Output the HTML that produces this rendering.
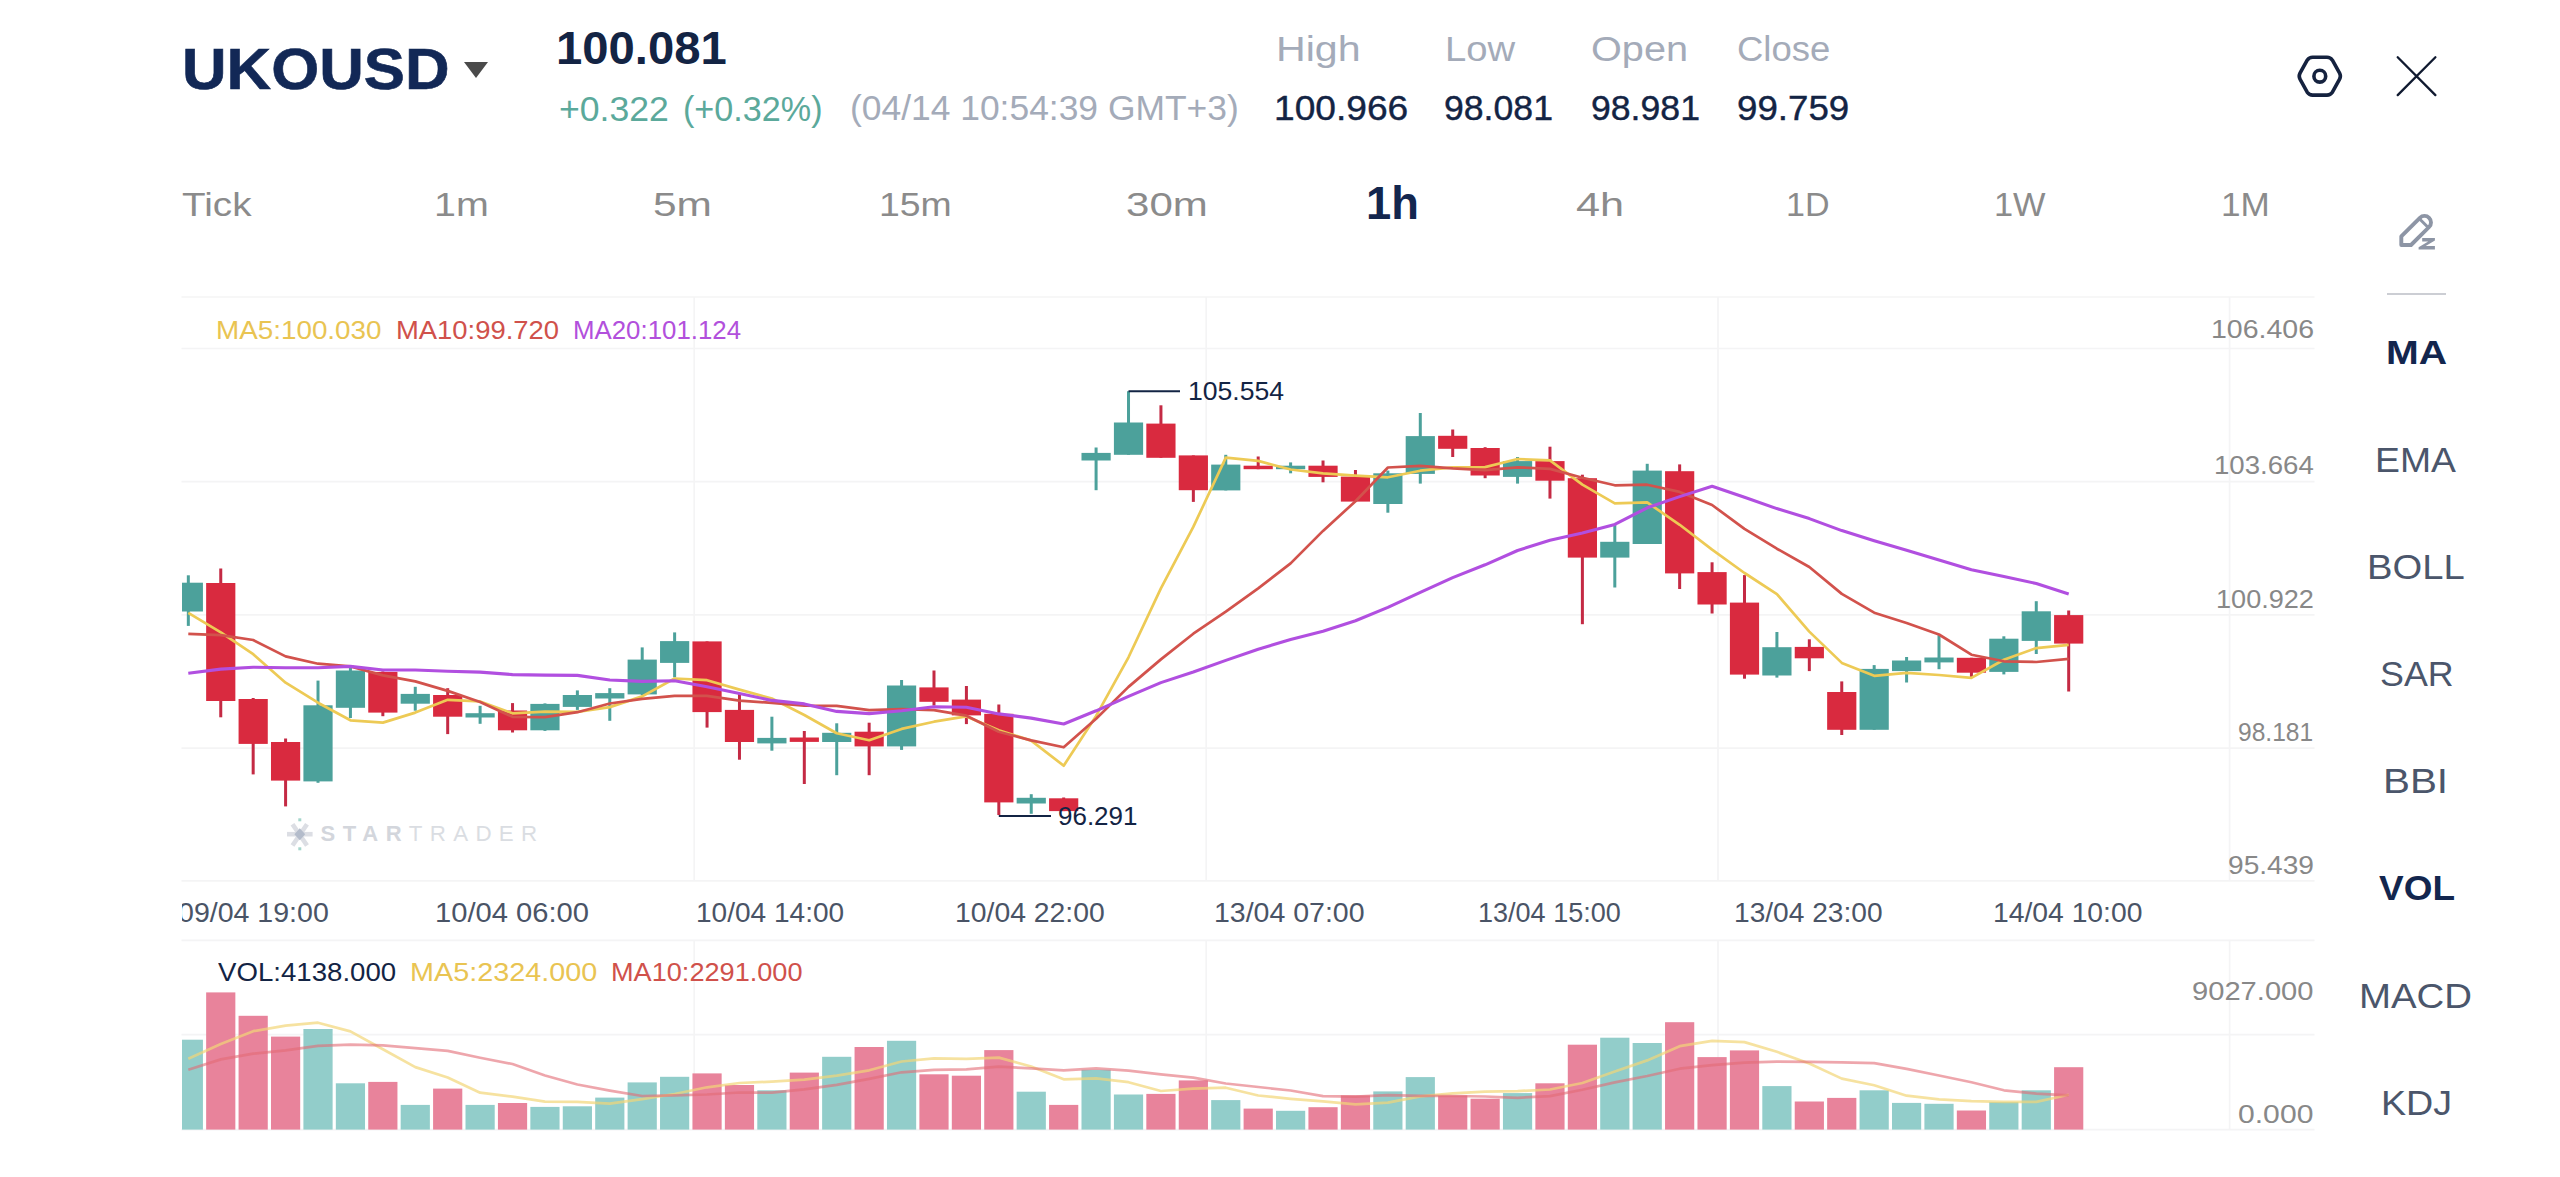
<!DOCTYPE html>
<html lang="en"><head><meta charset="utf-8"><title>UKOUSD Chart</title>
<style>
html,body{margin:0;padding:0;background:#fff;}
body{width:2560px;height:1177px;position:relative;overflow:hidden;font-family:"Liberation Sans",sans-serif;}
#chart{position:absolute;left:0;top:0;}
.t{position:absolute;white-space:pre;line-height:1;transform-origin:0 0;display:block;}
.ic{position:absolute;overflow:visible;}
.tri{position:absolute;left:463.7px;top:61.9px;width:0;height:0;border-left:12px solid transparent;border-right:12px solid transparent;border-top:16.6px solid #4a4a4a;}
.div{position:absolute;left:2387px;top:292.9px;width:58.5px;height:1.8px;background:#ccced4;}
#xaxis{position:absolute;left:182px;top:882px;width:2132px;height:56px;overflow:hidden;}
#xaxis .t{margin-left:-182px;margin-top:-882px;}
</style></head>
<body>
<svg id="chart" width="2560" height="1177" viewBox="0 0 2560 1177">
<g stroke="#f4f4f5" stroke-width="1.7" fill="none"><line x1="181.5" x2="2314.5" y1="297" y2="297"/><line x1="181.5" x2="2314.5" y1="348.5" y2="348.5"/><line x1="181.5" x2="2314.5" y1="481.7" y2="481.7"/><line x1="181.5" x2="2314.5" y1="614.9" y2="614.9"/><line x1="181.5" x2="2314.5" y1="748.1" y2="748.1"/><line x1="181.5" x2="2314.5" y1="880.8" y2="880.8"/><line x1="181.5" x2="2314.5" y1="940.4" y2="940.4"/><line x1="181.5" x2="2314.5" y1="1034.6" y2="1034.6"/><line x1="181.5" x2="2314.5" y1="1129.6" y2="1129.6"/><line x1="694.2" x2="694.2" y1="297" y2="880.8"/><line x1="694.2" x2="694.2" y1="940.4" y2="1129.6"/><line x1="1206.2" x2="1206.2" y1="297" y2="880.8"/><line x1="1206.2" x2="1206.2" y1="940.4" y2="1129.6"/><line x1="1718.0" x2="1718.0" y1="297" y2="880.8"/><line x1="1718.0" x2="1718.0" y1="940.4" y2="1129.6"/><line x1="2229.6" x2="2229.6" y1="297" y2="880.8"/><line x1="2229.6" x2="2229.6" y1="940.4" y2="1129.6"/></g>
<defs><clipPath id="cp"><rect x="182" y="290" width="2132" height="850"/></clipPath></defs>
<g clip-path="url(#cp)">
<g><rect x="173.73" y="1039.7" width="29.2" height="89.9" fill="#92cdca"/><rect x="206.15" y="992.4" width="29.2" height="137.2" fill="#e8839b"/><rect x="238.57" y="1015.8" width="29.2" height="113.8" fill="#e8839b"/><rect x="270.99" y="1036.6" width="29.2" height="93.0" fill="#e8839b"/><rect x="303.41" y="1029.0" width="29.2" height="100.6" fill="#92cdca"/><rect x="335.83" y="1083.3" width="29.2" height="46.3" fill="#92cdca"/><rect x="368.25" y="1081.9" width="29.2" height="47.7" fill="#e8839b"/><rect x="400.67" y="1104.9" width="29.2" height="24.7" fill="#92cdca"/><rect x="433.09" y="1088.6" width="29.2" height="41.0" fill="#e8839b"/><rect x="465.51" y="1104.9" width="29.2" height="24.7" fill="#92cdca"/><rect x="497.93" y="1103.0" width="29.2" height="26.6" fill="#e8839b"/><rect x="530.35" y="1106.9" width="29.2" height="22.7" fill="#92cdca"/><rect x="562.77" y="1106.3" width="29.2" height="23.3" fill="#92cdca"/><rect x="595.19" y="1097.6" width="29.2" height="32.0" fill="#92cdca"/><rect x="627.61" y="1082.4" width="29.2" height="47.2" fill="#92cdca"/><rect x="660.03" y="1076.8" width="29.2" height="52.8" fill="#92cdca"/><rect x="692.45" y="1073.4" width="29.2" height="56.2" fill="#e8839b"/><rect x="724.87" y="1085.0" width="29.2" height="44.6" fill="#e8839b"/><rect x="757.29" y="1090.3" width="29.2" height="39.3" fill="#92cdca"/><rect x="789.71" y="1072.6" width="29.2" height="57.0" fill="#e8839b"/><rect x="822.13" y="1056.8" width="29.2" height="72.8" fill="#92cdca"/><rect x="854.55" y="1047.0" width="29.2" height="82.6" fill="#e8839b"/><rect x="886.97" y="1040.8" width="29.2" height="88.8" fill="#92cdca"/><rect x="919.39" y="1074.3" width="29.2" height="55.3" fill="#e8839b"/><rect x="951.81" y="1075.7" width="29.2" height="53.9" fill="#e8839b"/><rect x="984.23" y="1050.1" width="29.2" height="79.5" fill="#e8839b"/><rect x="1016.65" y="1091.7" width="29.2" height="37.9" fill="#92cdca"/><rect x="1049.07" y="1104.9" width="29.2" height="24.7" fill="#e8839b"/><rect x="1081.49" y="1069.8" width="29.2" height="59.8" fill="#92cdca"/><rect x="1113.91" y="1094.5" width="29.2" height="35.1" fill="#92cdca"/><rect x="1146.33" y="1093.9" width="29.2" height="35.7" fill="#e8839b"/><rect x="1178.75" y="1080.4" width="29.2" height="49.2" fill="#e8839b"/><rect x="1211.17" y="1100.1" width="29.2" height="29.5" fill="#92cdca"/><rect x="1243.59" y="1108.6" width="29.2" height="21.0" fill="#e8839b"/><rect x="1276.01" y="1110.8" width="29.2" height="18.8" fill="#92cdca"/><rect x="1308.43" y="1107.2" width="29.2" height="22.4" fill="#e8839b"/><rect x="1340.85" y="1095.4" width="29.2" height="34.2" fill="#e8839b"/><rect x="1373.27" y="1091.4" width="29.2" height="38.2" fill="#92cdca"/><rect x="1405.69" y="1077.1" width="29.2" height="52.5" fill="#92cdca"/><rect x="1438.11" y="1095.4" width="29.2" height="34.2" fill="#e8839b"/><rect x="1470.53" y="1098.7" width="29.2" height="30.9" fill="#e8839b"/><rect x="1502.95" y="1093.1" width="29.2" height="36.5" fill="#92cdca"/><rect x="1535.37" y="1083.3" width="29.2" height="46.3" fill="#e8839b"/><rect x="1567.79" y="1044.7" width="29.2" height="84.9" fill="#e8839b"/><rect x="1600.21" y="1037.7" width="29.2" height="91.9" fill="#92cdca"/><rect x="1632.63" y="1043.0" width="29.2" height="86.6" fill="#92cdca"/><rect x="1665.05" y="1022.2" width="29.2" height="107.4" fill="#e8839b"/><rect x="1697.47" y="1057.1" width="29.2" height="72.5" fill="#e8839b"/><rect x="1729.89" y="1050.4" width="29.2" height="79.2" fill="#e8839b"/><rect x="1762.31" y="1086.1" width="29.2" height="43.5" fill="#92cdca"/><rect x="1794.73" y="1101.5" width="29.2" height="28.1" fill="#e8839b"/><rect x="1827.15" y="1097.9" width="29.2" height="31.7" fill="#e8839b"/><rect x="1859.57" y="1090.3" width="29.2" height="39.3" fill="#92cdca"/><rect x="1891.99" y="1102.9" width="29.2" height="26.7" fill="#92cdca"/><rect x="1924.41" y="1103.8" width="29.2" height="25.8" fill="#92cdca"/><rect x="1956.83" y="1110.5" width="29.2" height="19.1" fill="#e8839b"/><rect x="1989.25" y="1102.1" width="29.2" height="27.5" fill="#92cdca"/><rect x="2021.67" y="1090.3" width="29.2" height="39.3" fill="#92cdca"/><rect x="2054.09" y="1067.2" width="29.2" height="62.4" fill="#e8839b"/></g>
<polyline points="188.3,1058.8 220.8,1043.9 253.2,1031.2 285.6,1025.6 318.0,1022.7 350.4,1031.4 382.9,1049.3 415.3,1067.1 447.7,1077.5 480.1,1092.7 512.5,1096.7 545.0,1101.7 577.4,1101.9 609.8,1103.7 642.2,1099.2 674.6,1094.0 707.0,1087.3 739.5,1083.0 771.9,1081.6 804.3,1079.6 836.7,1075.6 869.2,1070.3 901.6,1061.5 934.0,1058.3 966.4,1058.9 998.8,1057.6 1031.2,1066.5 1063.7,1079.3 1096.1,1078.4 1128.5,1082.2 1160.9,1091.0 1193.3,1088.7 1225.8,1087.7 1258.2,1095.5 1290.6,1098.8 1323.0,1101.4 1355.5,1104.4 1387.9,1102.7 1420.3,1096.4 1452.7,1093.3 1485.1,1091.6 1517.6,1091.1 1550.0,1089.5 1582.4,1083.0 1614.8,1071.5 1647.2,1060.4 1679.7,1046.2 1712.1,1040.9 1744.5,1042.1 1776.9,1051.8 1809.3,1063.5 1841.8,1078.6 1874.2,1085.2 1906.6,1095.7 1939.0,1099.3 1971.4,1101.1 2003.9,1101.9 2036.3,1101.9 2068.7,1094.8" fill="none" stroke="#f2d577" stroke-width="2.7" stroke-linejoin="round" stroke-linecap="butt" opacity="0.7"/>
<polyline points="188.3,1069.8 220.8,1059.4 253.2,1053.7 285.6,1050.4 318.0,1045.9 350.4,1044.7 382.9,1045.3 415.3,1048.1 447.7,1050.9 480.1,1057.7 512.5,1064.0 545.0,1075.5 577.4,1084.5 609.8,1090.6 642.2,1096.0 674.6,1095.3 707.0,1094.5 739.5,1092.5 771.9,1092.7 804.3,1089.4 836.7,1084.8 869.2,1078.8 901.6,1072.3 934.0,1069.9 966.4,1069.3 998.8,1066.6 1031.2,1068.4 1063.7,1070.4 1096.1,1068.4 1128.5,1070.6 1160.9,1074.3 1193.3,1077.6 1225.8,1083.5 1258.2,1087.0 1290.6,1090.5 1323.0,1096.2 1355.5,1096.6 1387.9,1095.2 1420.3,1095.9 1452.7,1096.0 1485.1,1096.5 1517.6,1097.8 1550.0,1096.1 1582.4,1089.7 1614.8,1082.4 1647.2,1076.0 1679.7,1068.7 1712.1,1065.2 1744.5,1062.6 1776.9,1061.6 1809.3,1061.9 1841.8,1062.4 1874.2,1063.1 1906.6,1068.9 1939.0,1075.5 1971.4,1082.3 2003.9,1090.3 2036.3,1093.6 2068.7,1095.3" fill="none" stroke="#e26a74" stroke-width="2.7" stroke-linejoin="round" stroke-linecap="butt" opacity="0.6"/>
<g><rect x="186.83" y="575.3" width="3" height="50.6" fill="#4ca19b"/><rect x="173.73" y="582.7" width="29.2" height="28.8" fill="#4ca19b"/><rect x="219.25" y="568.5" width="3" height="148.8" fill="#c42a44"/><rect x="206.15" y="583.0" width="29.2" height="118.0" fill="#d92a3f"/><rect x="251.67" y="698.0" width="3" height="76.4" fill="#c42a44"/><rect x="238.57" y="699.0" width="29.2" height="44.9" fill="#d92a3f"/><rect x="284.09" y="738.5" width="3" height="67.9" fill="#c42a44"/><rect x="270.99" y="742.0" width="29.2" height="38.6" fill="#d92a3f"/><rect x="316.51" y="680.6" width="3" height="102.2" fill="#4ca19b"/><rect x="303.41" y="705.3" width="29.2" height="76.1" fill="#4ca19b"/><rect x="348.93" y="668.0" width="3" height="50.0" fill="#4ca19b"/><rect x="335.83" y="670.5" width="29.2" height="37.3" fill="#4ca19b"/><rect x="381.35" y="671.4" width="3" height="44.8" fill="#c42a44"/><rect x="368.25" y="671.9" width="29.2" height="40.7" fill="#d92a3f"/><rect x="413.77" y="686.8" width="3" height="23.9" fill="#4ca19b"/><rect x="400.67" y="693.9" width="29.2" height="9.8" fill="#4ca19b"/><rect x="446.19" y="688.2" width="3" height="45.9" fill="#c42a44"/><rect x="433.09" y="695.0" width="29.2" height="21.7" fill="#d92a3f"/><rect x="478.61" y="705.8" width="3" height="18.0" fill="#4ca19b"/><rect x="465.51" y="713.2" width="29.2" height="4.3" fill="#4ca19b"/><rect x="511.03" y="703.1" width="3" height="29.4" fill="#c42a44"/><rect x="497.93" y="710.5" width="29.2" height="19.8" fill="#d92a3f"/><rect x="543.45" y="703.4" width="3" height="27.5" fill="#4ca19b"/><rect x="530.35" y="703.9" width="29.2" height="26.4" fill="#4ca19b"/><rect x="575.87" y="690.4" width="3" height="19.5" fill="#4ca19b"/><rect x="562.77" y="695.0" width="29.2" height="11.9" fill="#4ca19b"/><rect x="608.29" y="688.2" width="3" height="32.6" fill="#4ca19b"/><rect x="595.19" y="693.1" width="29.2" height="5.4" fill="#4ca19b"/><rect x="640.71" y="647.4" width="3" height="47.6" fill="#4ca19b"/><rect x="627.61" y="659.6" width="29.2" height="34.8" fill="#4ca19b"/><rect x="673.13" y="632.4" width="3" height="44.9" fill="#4ca19b"/><rect x="660.03" y="641.1" width="29.2" height="21.8" fill="#4ca19b"/><rect x="705.55" y="641.4" width="3" height="86.2" fill="#c42a44"/><rect x="692.45" y="641.4" width="29.2" height="70.7" fill="#d92a3f"/><rect x="737.97" y="693.6" width="3" height="66.1" fill="#c42a44"/><rect x="724.87" y="709.9" width="29.2" height="32.1" fill="#d92a3f"/><rect x="770.39" y="716.7" width="3" height="34.0" fill="#4ca19b"/><rect x="757.29" y="737.9" width="29.2" height="5.5" fill="#4ca19b"/><rect x="802.81" y="731.0" width="3" height="53.0" fill="#c42a44"/><rect x="789.71" y="737.5" width="29.2" height="4.4" fill="#d92a3f"/><rect x="835.23" y="723.3" width="3" height="51.9" fill="#4ca19b"/><rect x="822.13" y="732.8" width="29.2" height="9.2" fill="#4ca19b"/><rect x="867.65" y="722.7" width="3" height="52.5" fill="#c42a44"/><rect x="854.55" y="731.7" width="29.2" height="14.7" fill="#d92a3f"/><rect x="900.07" y="680.0" width="3" height="69.9" fill="#4ca19b"/><rect x="886.97" y="685.5" width="29.2" height="60.9" fill="#4ca19b"/><rect x="932.49" y="670.5" width="3" height="35.1" fill="#c42a44"/><rect x="919.39" y="687.4" width="29.2" height="14.4" fill="#d92a3f"/><rect x="964.91" y="686.0" width="3" height="38.1" fill="#c42a44"/><rect x="951.81" y="699.6" width="29.2" height="15.8" fill="#d92a3f"/><rect x="997.33" y="704.5" width="3" height="110.5" fill="#c42a44"/><rect x="984.23" y="713.8" width="29.2" height="88.6" fill="#d92a3f"/><rect x="1029.75" y="794.2" width="3" height="19.6" fill="#4ca19b"/><rect x="1016.65" y="797.8" width="29.2" height="5.7" fill="#4ca19b"/><rect x="1062.17" y="797.5" width="3" height="13.6" fill="#c42a44"/><rect x="1049.07" y="798.3" width="29.2" height="12.8" fill="#d92a3f"/><rect x="1094.59" y="447.5" width="3" height="42.7" fill="#4ca19b"/><rect x="1081.49" y="452.9" width="29.2" height="7.6" fill="#4ca19b"/><rect x="1127.01" y="391.2" width="3" height="63.6" fill="#4ca19b"/><rect x="1113.91" y="422.5" width="29.2" height="32.3" fill="#4ca19b"/><rect x="1159.43" y="405.3" width="3" height="52.5" fill="#c42a44"/><rect x="1146.33" y="423.6" width="29.2" height="34.2" fill="#d92a3f"/><rect x="1191.85" y="455.4" width="3" height="46.5" fill="#c42a44"/><rect x="1178.75" y="455.4" width="29.2" height="34.8" fill="#d92a3f"/><rect x="1224.27" y="454.8" width="3" height="35.6" fill="#4ca19b"/><rect x="1211.17" y="464.6" width="29.2" height="25.8" fill="#4ca19b"/><rect x="1256.69" y="456.5" width="3" height="12.7" fill="#c42a44"/><rect x="1243.59" y="465.7" width="29.2" height="3.5" fill="#d92a3f"/><rect x="1289.11" y="462.4" width="3" height="10.9" fill="#4ca19b"/><rect x="1276.01" y="465.7" width="29.2" height="3.5" fill="#4ca19b"/><rect x="1321.53" y="460.5" width="3" height="21.8" fill="#c42a44"/><rect x="1308.43" y="465.7" width="29.2" height="11.2" fill="#d92a3f"/><rect x="1353.95" y="470.0" width="3" height="31.6" fill="#c42a44"/><rect x="1340.85" y="476.6" width="29.2" height="25.0" fill="#d92a3f"/><rect x="1386.37" y="470.6" width="3" height="42.1" fill="#4ca19b"/><rect x="1373.27" y="473.3" width="29.2" height="30.7" fill="#4ca19b"/><rect x="1418.79" y="413.0" width="3" height="70.6" fill="#4ca19b"/><rect x="1405.69" y="436.1" width="29.2" height="37.8" fill="#4ca19b"/><rect x="1451.21" y="429.5" width="3" height="27.5" fill="#c42a44"/><rect x="1438.11" y="435.8" width="29.2" height="13.0" fill="#d92a3f"/><rect x="1483.63" y="447.2" width="3" height="31.0" fill="#c42a44"/><rect x="1470.53" y="448.0" width="29.2" height="27.5" fill="#d92a3f"/><rect x="1516.05" y="457.0" width="3" height="26.6" fill="#4ca19b"/><rect x="1502.95" y="461.1" width="29.2" height="15.8" fill="#4ca19b"/><rect x="1548.47" y="446.7" width="3" height="51.9" fill="#c42a44"/><rect x="1535.37" y="461.1" width="29.2" height="19.6" fill="#d92a3f"/><rect x="1580.89" y="474.7" width="3" height="149.5" fill="#c42a44"/><rect x="1567.79" y="478.2" width="29.2" height="79.4" fill="#d92a3f"/><rect x="1613.31" y="525.0" width="3" height="62.5" fill="#4ca19b"/><rect x="1600.21" y="541.8" width="29.2" height="15.8" fill="#4ca19b"/><rect x="1645.73" y="463.8" width="3" height="80.2" fill="#4ca19b"/><rect x="1632.63" y="470.6" width="29.2" height="73.4" fill="#4ca19b"/><rect x="1678.15" y="464.4" width="3" height="124.6" fill="#c42a44"/><rect x="1665.05" y="471.2" width="29.2" height="102.2" fill="#d92a3f"/><rect x="1710.57" y="562.3" width="3" height="51.2" fill="#c42a44"/><rect x="1697.47" y="572.1" width="29.2" height="32.4" fill="#d92a3f"/><rect x="1742.99" y="575.1" width="3" height="103.6" fill="#c42a44"/><rect x="1729.89" y="602.6" width="29.2" height="72.0" fill="#d92a3f"/><rect x="1775.41" y="632.0" width="3" height="45.6" fill="#4ca19b"/><rect x="1762.31" y="647.2" width="29.2" height="28.3" fill="#4ca19b"/><rect x="1807.83" y="639.3" width="3" height="31.8" fill="#c42a44"/><rect x="1794.73" y="646.9" width="29.2" height="11.4" fill="#d92a3f"/><rect x="1840.25" y="681.4" width="3" height="53.6" fill="#c42a44"/><rect x="1827.15" y="692.0" width="29.2" height="37.8" fill="#d92a3f"/><rect x="1872.67" y="665.1" width="3" height="64.7" fill="#4ca19b"/><rect x="1859.57" y="668.9" width="29.2" height="60.9" fill="#4ca19b"/><rect x="1905.09" y="657.0" width="3" height="25.5" fill="#4ca19b"/><rect x="1891.99" y="660.5" width="29.2" height="10.6" fill="#4ca19b"/><rect x="1937.51" y="635.2" width="3" height="34.0" fill="#4ca19b"/><rect x="1924.41" y="657.5" width="29.2" height="4.9" fill="#4ca19b"/><rect x="1969.93" y="657.8" width="3" height="19.3" fill="#c42a44"/><rect x="1956.83" y="657.8" width="29.2" height="14.9" fill="#d92a3f"/><rect x="2002.35" y="636.3" width="3" height="38.1" fill="#4ca19b"/><rect x="1989.25" y="638.7" width="29.2" height="33.2" fill="#4ca19b"/><rect x="2034.77" y="601.2" width="3" height="52.8" fill="#4ca19b"/><rect x="2021.67" y="611.3" width="29.2" height="29.6" fill="#4ca19b"/><rect x="2067.19" y="610.5" width="3" height="81.0" fill="#c42a44"/><rect x="2054.09" y="615.1" width="29.2" height="28.5" fill="#d92a3f"/></g>
<polyline points="188.3,612.9 220.8,632.4 253.2,654.2 285.6,682.7 318.0,702.7 350.4,720.3 382.9,722.6 415.3,712.6 447.7,699.8 480.1,701.4 512.5,713.3 545.0,711.6 577.4,711.8 609.8,707.1 642.2,696.4 674.6,678.5 707.0,680.2 739.5,689.6 771.9,698.5 804.3,715.0 836.7,733.3 869.2,740.2 901.6,728.9 934.0,721.7 966.4,716.4 998.8,730.3 1031.2,740.6 1063.7,765.7 1096.1,715.9 1128.5,657.3 1160.9,588.4 1193.3,526.9 1225.8,457.6 1258.2,460.9 1290.6,469.5 1323.0,473.3 1355.5,475.6 1387.9,477.3 1420.3,470.7 1452.7,467.3 1485.1,467.1 1517.6,459.0 1550.0,460.4 1582.4,484.7 1614.8,503.3 1647.2,502.4 1679.7,524.8 1712.1,549.6 1744.5,573.0 1776.9,594.1 1809.3,631.6 1841.8,662.9 1874.2,675.8 1906.6,672.9 1939.0,675.0 1971.4,677.9 2003.9,659.7 2036.3,648.1 2068.7,644.8" fill="none" stroke="#edca55" stroke-width="2.7" stroke-linejoin="round" stroke-linecap="butt" opacity="1"/>
<polyline points="188.3,633.8 220.8,635.2 253.2,640.0 285.6,656.4 318.0,663.7 350.4,666.4 382.9,675.4 415.3,681.4 447.7,690.9 480.1,702.0 512.5,716.8 545.0,717.1 577.4,712.2 609.8,703.5 642.2,698.9 674.6,695.9 707.0,695.9 739.5,700.7 771.9,702.8 804.3,705.7 836.7,705.9 869.2,710.2 901.6,709.2 934.0,710.1 966.4,715.7 998.8,731.8 1031.2,740.4 1063.7,747.3 1096.1,718.8 1128.5,686.9 1160.9,659.4 1193.3,633.7 1225.8,611.6 1258.2,588.4 1290.6,563.4 1323.0,530.9 1355.5,501.2 1387.9,467.5 1420.3,465.8 1452.7,468.4 1485.1,470.2 1517.6,467.3 1550.0,468.9 1582.4,477.7 1614.8,485.3 1647.2,484.7 1679.7,491.9 1712.1,505.0 1744.5,528.9 1776.9,548.7 1809.3,567.0 1841.8,593.9 1874.2,612.7 1906.6,623.0 1939.0,634.5 1971.4,654.7 2003.9,661.3 2036.3,662.0 2068.7,658.9" fill="none" stroke="#d2524c" stroke-width="2.7" stroke-linejoin="round" stroke-linecap="butt" opacity="1"/>
<polyline points="188.3,673.2 220.8,669.1 253.2,667.2 285.6,667.8 318.0,667.8 350.4,666.4 382.9,670.0 415.3,670.0 447.7,671.3 480.1,672.1 512.5,674.6 545.0,675.1 577.4,675.4 609.8,680.0 642.2,681.4 674.6,680.8 707.0,686.8 739.5,693.6 771.9,700.4 804.3,703.9 836.7,711.4 869.2,713.6 901.6,710.7 934.0,706.8 966.4,707.3 998.8,713.9 1031.2,718.1 1063.7,724.0 1096.1,710.8 1128.5,696.3 1160.9,682.6 1193.3,672.0 1225.8,660.4 1258.2,649.2 1290.6,639.6 1323.0,631.3 1355.5,620.8 1387.9,607.4 1420.3,592.3 1452.7,577.6 1485.1,564.8 1517.6,550.5 1550.0,540.3 1582.4,533.1 1614.8,524.4 1647.2,507.8 1679.7,496.6 1712.1,486.2 1744.5,497.3 1776.9,508.6 1809.3,518.6 1841.8,530.6 1874.2,540.8 1906.6,550.3 1939.0,559.9 1971.4,569.7 2003.9,576.6 2036.3,583.5 2068.7,593.9" fill="none" stroke="#b14fe0" stroke-width="3.1" stroke-linejoin="round" stroke-linecap="butt" opacity="1"/>
</g>
<g stroke="#132444" stroke-width="2" fill="none"><line x1="1128.5" x2="1180" y1="391.2" y2="391.2"/><line x1="998.8" x2="1051" y1="816" y2="816"/></g>
</svg>
<header><div id="hdr">
<span class="t" style="left:182.20px;top:41.34px;font-size:57.71px;color:#122856;transform:scaleX(1.0699);font-weight:700;-webkit-text-stroke:0.6px #122856;">UKOUSD</span>
<span class="t" style="left:556.06px;top:25.31px;font-size:46.57px;color:#132444;transform:scaleX(1.0150);font-weight:700;">100.081</span>
<span class="t" style="left:559.27px;top:91.53px;font-size:34.20px;color:#5ba99b;transform:scaleX(1.0417);">+0.322</span>
<span class="t" style="left:682.65px;top:91.53px;font-size:34.20px;color:#5ba99b;transform:scaleX(0.9988);">(+0.32%)</span>
<span class="t" style="left:849.87px;top:91.43px;font-size:34.20px;color:#a4abb9;transform:scaleX(1.0357);">(04/14 10:54:39 GMT+3)</span>
<span class="t" style="left:1276.11px;top:31.56px;font-size:34.64px;color:#a4abb9;transform:scaleX(1.1876);">High</span>
<span class="t" style="left:1444.54px;top:31.56px;font-size:34.64px;color:#a4abb9;transform:scaleX(1.1042);">Low</span>
<span class="t" style="left:1591.41px;top:31.56px;font-size:34.64px;color:#a4abb9;transform:scaleX(1.1449);">Open</span>
<span class="t" style="left:1737.07px;top:31.56px;font-size:34.64px;color:#a4abb9;transform:scaleX(1.0541);">Close</span>
<span class="t" style="left:1274.10px;top:91.48px;font-size:34.49px;color:#132444;transform:scaleX(1.0767);-webkit-text-stroke:0.4px #132444;">100.966</span>
<span class="t" style="left:1443.87px;top:91.48px;font-size:34.49px;color:#132444;transform:scaleX(1.0329);-webkit-text-stroke:0.4px #132444;">98.081</span>
<span class="t" style="left:1591.17px;top:91.48px;font-size:34.49px;color:#132444;transform:scaleX(1.0329);-webkit-text-stroke:0.4px #132444;">98.981</span>
<span class="t" style="left:1736.93px;top:91.48px;font-size:34.49px;color:#132444;transform:scaleX(1.0641);-webkit-text-stroke:0.4px #132444;">99.759</span>
</div><div class="tri"></div></header>
<nav><div id="tabs">
<span class="t" style="left:182.03px;top:187.35px;font-size:34.06px;color:#8b8b8b;transform:scaleX(1.1361);">Tick</span>
<span class="t" style="left:433.74px;top:187.35px;font-size:34.06px;color:#8b8b8b;transform:scaleX(1.1570);">1m</span>
<span class="t" style="left:652.70px;top:187.35px;font-size:34.06px;color:#8b8b8b;transform:scaleX(1.2465);">5m</span>
<span class="t" style="left:879.28px;top:187.35px;font-size:34.06px;color:#8b8b8b;transform:scaleX(1.0984);">15m</span>
<span class="t" style="left:1125.64px;top:187.35px;font-size:34.06px;color:#8b8b8b;transform:scaleX(1.2348);">30m</span>
<span class="t" style="left:1366.28px;top:180.00px;font-size:46.00px;color:#13264e;transform:scaleX(0.9850);font-weight:700;">1h</span>
<span class="t" style="left:1575.94px;top:187.35px;font-size:34.06px;color:#8b8b8b;transform:scaleX(1.2695);">4h</span>
<span class="t" style="left:1785.82px;top:187.35px;font-size:34.06px;color:#8b8b8b;transform:scaleX(0.9996);">1D</span>
<span class="t" style="left:1994.19px;top:187.35px;font-size:34.06px;color:#8b8b8b;transform:scaleX(1.0100);">1W</span>
<span class="t" style="left:2221.04px;top:187.35px;font-size:34.06px;color:#8b8b8b;transform:scaleX(1.0320);">1M</span>
</div></nav>
<aside><div id="side">
<span class="t" style="left:2386.14px;top:335.18px;font-size:34.14px;color:#13264e;transform:scaleX(1.1513);font-weight:700;">MA</span>
<span class="t" style="left:2375.01px;top:441.67px;font-size:35.22px;color:#4b566b;transform:scaleX(1.0597);">EMA</span>
<span class="t" style="left:2367.34px;top:548.67px;font-size:35.22px;color:#4b566b;transform:scaleX(1.0844);">BOLL</span>
<span class="t" style="left:2379.57px;top:656.34px;font-size:35.36px;color:#4b566b;transform:scaleX(1.0128);">SAR</span>
<span class="t" style="left:2383.47px;top:763.34px;font-size:35.36px;color:#4b566b;transform:scaleX(1.1417);">BBI</span>
<span class="t" style="left:2378.80px;top:871.29px;font-size:34.71px;color:#13264e;transform:scaleX(1.0646);font-weight:700;">VOL</span>
<span class="t" style="left:2359.33px;top:977.77px;font-size:35.22px;color:#4b566b;transform:scaleX(1.0897);">MACD</span>
<span class="t" style="left:2380.99px;top:1086.32px;font-size:35.51px;color:#4b566b;transform:scaleX(1.0607);">KDJ</span>
</div><div class="div"></div></aside>
<div id="xaxis">
<span class="t xl" style="left:177.64px;top:899.51px;font-size:26.81px;color:#4a5466;transform:scaleX(1.0653);">09/04 19:00</span>
<span class="t xl" style="left:434.66px;top:899.51px;font-size:26.81px;color:#4a5466;transform:scaleX(1.0880);">10/04 06:00</span>
<span class="t xl" style="left:696.24px;top:899.51px;font-size:26.81px;color:#4a5466;transform:scaleX(1.0462);">10/04 14:00</span>
<span class="t xl" style="left:954.91px;top:899.51px;font-size:26.81px;color:#4a5466;transform:scaleX(1.0577);">10/04 22:00</span>
<span class="t xl" style="left:1214.20px;top:899.51px;font-size:26.81px;color:#4a5466;transform:scaleX(1.0635);">13/04 07:00</span>
<span class="t xl" style="left:1477.61px;top:899.51px;font-size:26.81px;color:#4a5466;transform:scaleX(1.0087);">13/04 15:00</span>
<span class="t xl" style="left:1734.43px;top:899.51px;font-size:26.81px;color:#4a5466;transform:scaleX(1.0491);">13/04 23:00</span>
<span class="t xl" style="left:1993.02px;top:899.51px;font-size:26.81px;color:#4a5466;transform:scaleX(1.0555);">14/04 10:00</span>
</div>
<div id="labels">
<span class="t" style="left:2210.80px;top:317.14px;font-size:25.36px;color:#888888;transform:scaleX(1.1238);">106.406</span>
<span class="t" style="left:2214.27px;top:453.47px;font-size:25.22px;color:#888888;transform:scaleX(1.0943);">103.664</span>
<span class="t" style="left:2215.80px;top:587.04px;font-size:25.36px;color:#888888;transform:scaleX(1.0684);">100.922</span>
<span class="t" style="left:2237.62px;top:720.04px;font-size:25.36px;color:#888888;transform:scaleX(0.9683);">98.181</span>
<span class="t" style="left:2227.77px;top:853.24px;font-size:25.36px;color:#888888;transform:scaleX(1.1089);">95.439</span>
<span class="t" style="left:2192.03px;top:978.94px;font-size:25.36px;color:#888888;transform:scaleX(1.1487);">9027.000</span>
<span class="t" style="left:2238.40px;top:1102.24px;font-size:25.36px;color:#888888;transform:scaleX(1.1879);">0.000</span>
<span class="t" style="left:216.17px;top:317.74px;font-size:25.36px;color:#e9c452;transform:scaleX(1.0972);">MA5:100.030</span>
<span class="t" style="left:396.21px;top:317.74px;font-size:25.36px;color:#d0514b;transform:scaleX(1.0809);">MA10:99.720</span>
<span class="t" style="left:573.03px;top:317.74px;font-size:25.36px;color:#b250dc;transform:scaleX(1.0186);">MA20:101.124</span>
<span class="t" style="left:1188.14px;top:378.90px;font-size:25.65px;color:#132444;transform:scaleX(1.0359);">105.554</span>
<span class="t" style="left:1058.46px;top:804.14px;font-size:25.36px;color:#132444;transform:scaleX(1.0240);">96.291</span>
<span class="t" style="left:217.80px;top:959.82px;font-size:25.51px;color:#132444;transform:scaleX(1.0832);">VOL:4138.000</span>
<span class="t" style="left:410.10px;top:959.82px;font-size:25.51px;color:#e9c452;transform:scaleX(1.1285);">MA5:2324.000</span>
<span class="t" style="left:611.33px;top:959.82px;font-size:25.51px;color:#d0514b;transform:scaleX(1.0635);">MA10:2291.000</span>
<span class="t wm" style="left:320.56px;top:823.10px;font-size:22.00px;color:#d3d6dc;transform:scaleX(1.0000);letter-spacing:7.62px;font-weight:700;">STAR</span>
<span class="t wm" style="left:408.85px;top:822.83px;font-size:22.32px;color:#dadde2;transform:scaleX(1.0000);letter-spacing:7.31px;">TRADER</span>
</div>

<svg class="ic" style="left:2290px;top:46px" width="60" height="60" viewBox="2290 46 60 60" fill="none" stroke="#15223f" stroke-width="3.6" stroke-linejoin="round">
<path d="M2307.2 60.2 Q2309.2 57.3 2312.6 57.3 L2327 57.3 Q2330.4 57.3 2332.4 60.2 L2339.6 73.2 Q2341.2 76.2 2339.6 79.2 L2332.4 92.2 Q2330.4 95.1 2327 95.1 L2312.6 95.1 Q2309.2 95.1 2307.2 92.2 L2300 79.2 Q2298.4 76.2 2300 73.2 Z"/>
<circle cx="2319.8" cy="76.2" r="5.9"/>
</svg>
<svg class="ic" style="left:2390px;top:50px" width="54" height="54" viewBox="2390 50 54 54" fill="none" stroke="#101a30" stroke-width="2.3" stroke-linecap="round">
<path d="M2397.7 57.2 L2435.4 95.1 M2435.4 57.2 L2397.7 95.1"/>
</svg>
<svg class="ic" style="left:2392px;top:208px" width="50" height="48" viewBox="2392 208 50 48" fill="none" stroke="#8d95a5" stroke-width="3.9" stroke-linejoin="round" stroke-linecap="round">
<path d="M2401.3 245 L2401.3 236.4 L2419.9 217.8 A6.5 6.5 0 0 1 2429.1 227 L2411 245 Z"/>
<path d="M2419.4 218.7 L2428.2 227.5" stroke-width="3" stroke-linecap="butt"/>
<path d="M2422.2 237.9 L2434.9 237.9 L2434.9 240.6 L2425.7 246.1 L2434.9 246.1 L2434.9 249.6 L2418.6 249.6 L2418.6 247.2 L2428.2 241.5 L2422.2 241.5 Z" fill="#8d95a5" stroke="none"/>
</svg>
<svg class="ic" style="left:284px;top:814px" width="32" height="40" viewBox="284 814 32 40">
<g stroke="#dcdee4" stroke-width="4.6" stroke-linecap="butt" opacity="1">
<path d="M287 834.2 L312.6 834.2"/>
<path d="M292.5 824.2 L307 845.5"/>
<path d="M307 824.2 L292.5 845.5"/>
</g>
<path d="M299.8 828.3 L305.2 834.2 L299.8 840.3 L294.4 834.2 Z" fill="#b4bccb"/>
<rect x="298.3" y="818.3" width="3" height="3" fill="#a5d6cc"/>
<rect x="298.3" y="847.3" width="3" height="3" fill="#a5d6cc"/>
</svg>

</body></html>
